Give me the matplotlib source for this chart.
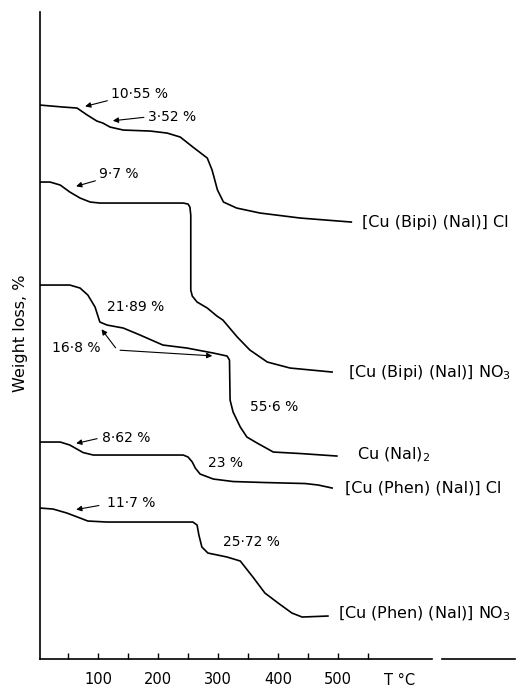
import matplotlib
matplotlib.use("Agg")
import matplotlib.pyplot as plt

# temperature (deg C) and weight level (arbitrary, curves offset) for each compound
bipi_cl_T = [3, 42, 65, 82, 98, 108, 120, 142, 187, 215, 237, 258, 282, 290, 299, 309, 331, 370, 437, 522]
bipi_cl_w = [554, 552, 551, 544, 538, 536, 532, 529, 528, 526, 522, 512, 501, 489, 469, 457, 451, 446, 441, 437]

bipi_no3_T = [3, 20, 37, 53, 70, 87, 103, 242, 250, 253, 254.5, 254.5, 257, 265, 282, 298, 308, 332, 353, 382, 420, 490]
bipi_no3_w = [477, 477, 474, 467, 461, 457, 456, 456, 455, 452, 444, 369, 363, 357, 351, 343, 339, 322, 309, 297, 291, 287]

cunal_T = [3, 53, 70, 83, 95, 103, 115, 142, 170, 208, 248, 292, 315, 319, 320, 325, 337, 348, 365, 392, 437, 498]
cunal_w = [374, 374, 371, 364, 352, 337, 334, 331, 324, 314, 311, 306, 303, 299, 259, 247, 232, 222, 216, 207, 205.5, 203]

phen_cl_T = [3, 37, 53, 75, 92, 242, 250, 257, 262, 270, 292, 325, 378, 445, 467, 490]
phen_cl_w = [217, 217, 214, 206.5, 204, 204, 202, 197, 191, 185, 180, 177.5, 176.5, 175.5, 174, 171]

phen_no3_T = [3, 25, 48, 70, 83, 115, 258, 265, 268, 273, 283, 315, 337, 358, 378, 400, 423, 440, 483]
phen_no3_w = [151, 150, 146, 141, 138, 137, 137, 134, 124, 112, 106, 102, 98, 82, 66, 56, 46, 42, 43]

curves = [(bipi_cl_T, bipi_cl_w), (bipi_no3_T, bipi_no3_w), (cunal_T, cunal_w),
          (phen_cl_T, phen_cl_w), (phen_no3_T, phen_no3_w)]

names = ["[Cu (Bipi) (Nal)] Cl", "[Cu (Bipi) (Nal)] NO$_3$", "Cu (Nal)$_2$",
         "[Cu (Phen) (Nal)] Cl", "[Cu (Phen) (Nal)] NO$_3$"]
name_pos = [(540, 437), (517, 287), (531, 204), (512, 171), (500, 45)]

# percent labels: text, text position, arrow tail, arrow head (None = no arrow)
pct_text = ["10·55 %", "3·52 %", "9·7 %", "21·89 %", "55·6 %", "8·62 %", "23 %", "11·7 %", "25·72 %"]
pct_pos = [(122, 565), (183, 542), (102, 485), (115, 352), (353, 252), (107, 221), (283, 196), (115, 156), (308, 117)]
arrow_tail = [(120, 559), (181, 542), (100, 479), None, None, (103, 221), None, (106, 154), None]
arrow_head = [(74, 552), (120, 538), (59, 472), None, None, (59, 215), None, (59, 149), None]

tick_pos = [50, 100, 150, 200, 250, 300, 350, 400, 450, 500, 550]
tick_lab = ["", "100", "", "200", "", "300", "", "400", "", "500", ""]


def main():
    fig = plt.figure(figsize=(5.3, 6.89), dpi=100)
    ax = fig.add_axes([0.0755, 0.0435, 0.8965, 0.939])
    ax.set_xlim(3.3, 795)
    ax.set_ylim(0, 647)

    for T, w in curves:
        ax.plot(T, w, color="black", lw=1.2, solid_joinstyle="round")

    for name, (x, y) in zip(names, name_pos):
        ax.text(x, y, name, fontsize=11.5, va="center", ha="left")

    for txt, (x, y) in zip(pct_text, pct_pos):
        ax.text(x, y, txt, fontsize=10, va="center", ha="left")
    for tail, head in zip(arrow_tail, arrow_head):
        if tail is None:
            continue
        ax.annotate("", xy=head, xytext=tail,
                    arrowprops=dict(arrowstyle="-|>", lw=0.8, color="black", mutation_scale=8))

    # 16.8 % : one corner, two arrows
    ax.text(23, 311, "16·8 %", fontsize=10, va="center", ha="left")
    for head in [(103, 332), (295, 303)]:
        ax.annotate("", xy=head, xytext=(132, 309),
                    arrowprops=dict(arrowstyle="-|>", lw=0.8, color="black", mutation_scale=8))

    ax.spines["top"].set_visible(False)
    ax.spines["right"].set_visible(False)
    ax.spines["bottom"].set_visible(False)
    ax.spines["left"].set_linewidth(1.2)
    # bottom axis drawn by hand, with the small break of the original trace
    xt = ax.get_xaxis_transform()
    ax.plot([3.3, 657], [0, 0], color="black", lw=1.2, transform=xt, clip_on=False)
    ax.plot([673, 795], [0, 0], color="black", lw=1.2, transform=xt, clip_on=False)

    ax.set_yticks([])
    ax.set_xticks(tick_pos)
    ax.set_xticklabels(tick_lab, fontsize=10.5)
    ax.tick_params(axis="x", direction="in", length=4, width=1, pad=9)
    ax.text(602, -21, "T °C", fontsize=10.5, ha="center", va="center")

    fig.text(21 / 530, 1 - 333 / 689, "Weight loss, %", rotation=90,
             fontsize=11.5, ha="center", va="center")

    fig.savefig("out.png", dpi=100)


if __name__ == "__main__":
    main()
